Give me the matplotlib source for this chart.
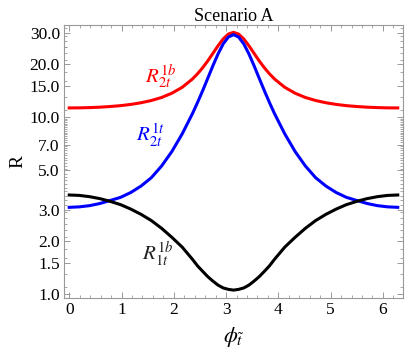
import numpy as np
import matplotlib
matplotlib.use('Agg')
import matplotlib.pyplot as plt
from matplotlib.ticker import FixedLocator, FixedFormatter, MultipleLocator, NullFormatter

plt.rcParams['font.family'] = ['Liberation Serif', 'DejaVu Serif']
plt.rcParams['mathtext.fontset'] = 'stix'

# values (phi in radians)
phi = [0.000, 0.196, 0.393, 0.589, 0.785, 0.982, 1.178, 1.374, 1.571, 1.767,
       1.963, 2.160, 2.356, 2.454, 2.553, 2.651, 2.749, 2.847, 2.945, 3.043,
       3.142, 3.240, 3.338, 3.436, 3.534, 3.632, 3.731, 3.829, 3.927, 4.123,
       4.320, 4.516, 4.712, 4.909, 5.105, 5.301, 5.498, 5.694, 5.890, 6.087,
       6.283]

r2t_1b = [11.30, 11.31, 11.35, 11.41, 11.51, 11.64, 11.83, 12.09, 12.45, 12.95,
          13.69, 14.78, 16.47, 17.64, 19.10, 20.90, 23.05, 25.44, 27.80, 29.60,
          30.29, 29.60, 27.80, 25.44, 23.05, 20.90, 19.10, 17.64, 16.47, 14.78,
          13.69, 12.95, 12.45, 12.09, 11.83, 11.64, 11.51, 11.41, 11.35, 11.31,
          11.30]

r2t_1t = [3.09, 3.11, 3.16, 3.25, 3.38, 3.52, 3.75, 4.08, 4.55, 5.30,
          6.40, 8.05, 10.48, 12.13, 14.17, 16.67, 19.63, 22.88, 26.06, 28.47,
          29.38, 28.47, 26.06, 22.88, 19.63, 16.67, 14.17, 12.13, 10.48, 8.05,
          6.40, 5.30, 4.55, 4.08, 3.75, 3.52, 3.38, 3.25, 3.16, 3.11,
          3.09]

r1t_1b = [3.63, 3.61, 3.55, 3.46, 3.34, 3.20, 3.02, 2.82, 2.60, 2.35,
          2.09, 1.84, 1.57, 1.44, 1.34, 1.25, 1.18, 1.12, 1.08, 1.06,
          1.05, 1.06, 1.08, 1.12, 1.18, 1.25, 1.34, 1.44, 1.57, 1.84,
          2.09, 2.35, 2.60, 2.82, 3.02, 3.20, 3.34, 3.46, 3.55, 3.61,
          3.63]

yticks = [1.0, 1.5, 2.0, 3.0, 5.0, 7.0, 10.0, 15.0, 20.0, 30.0]
ytick_labels = ['1.0', '1.5', '2.0', '3.0', '5.0', '7.0', '10.0', '15.0', '20.0', '30.0']

fig = plt.figure(figsize=(4.05, 3.53), dpi=100)
ax = fig.add_axes([0.158, 0.156, 0.837, 0.773])

ax.plot(phi, r2t_1b, color='#ff0000', lw=2.2)
ax.plot(phi, r2t_1t, color='#0000ff', lw=2.2)
ax.plot(phi, r1t_1b, color='black', lw=2.2)

ax.set_yscale('log')
ax.set_xlim(-0.1, 6.383)
ax.set_ylim(0.948, 33.3)

ax.xaxis.set_major_locator(MultipleLocator(1))
ax.xaxis.set_minor_locator(MultipleLocator(0.2))
ax.yaxis.set_major_locator(FixedLocator(yticks))
ax.yaxis.set_major_formatter(FixedFormatter(ytick_labels))
minor = [v * d for d in (1, 10) for v in np.arange(1.1, 10.0, 0.1)]
minor = [m for m in minor if all(abs(m - t) > 1e-6 for t in yticks) and m < 33]
ax.yaxis.set_minor_locator(FixedLocator(minor[::2] + [25.0]))
ax.yaxis.set_minor_formatter(NullFormatter())

for s in ax.spines.values():
    s.set_color('#999999')
    s.set_linewidth(0.8)
ax.tick_params(which='both', direction='in', top=True, right=True, color='#999999',
               labelsize=12.5, labelcolor='black', pad=3)
ax.tick_params(which='major', length=4.5, width=0.7)
ax.tick_params(which='minor', length=2.5, width=0.6)

ax.text(1.74, 16.9, r'$R^{1b}_{2t}$', color='#ff0000', fontsize=15, ha='center', va='center')
ax.text(1.55, 7.9, r'$R^{1t}_{2t}$', color='#0000ff', fontsize=15, ha='center', va='center')
ax.text(1.70, 1.69, r'$R^{1b}_{1t}$', color='#222222', fontsize=15, ha='center', va='center')

ax.set_title('Scenario A', fontsize=13, pad=3)
ax.set_ylabel('R', fontsize=14, labelpad=2)
ax.set_xlabel(r'$\phi_{\tilde{t}}$', fontsize=16, labelpad=5)

fig.savefig('out.png', dpi=100)
